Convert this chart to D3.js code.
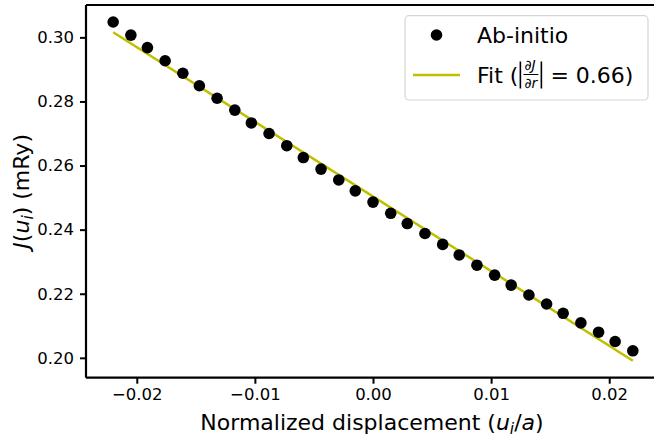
<!DOCTYPE html>
<html>
<head>
<meta charset="utf-8">
<script src="https://cdn.jsdelivr.net/npm/d3@7"></script>
<style>
  body { margin: 0; background: #fff; }
  svg { display: block; font-family: "DejaVu Sans", sans-serif; }
</style>
</head>
<body>
<div id="chart"></div>
<script>
// displacement values (u_i / a) and ab-initio J values (mRy)
var xVals = [-0.0220, -0.0205, -0.0191, -0.0176, -0.0161, -0.0147, -0.0132, -0.0117,
	-0.0103, -0.0088, -0.0073, -0.0059, -0.0044, -0.0029, -0.0015, 0.0000, 0.0015,
	0.0029, 0.0044, 0.0059, 0.0073, 0.0088, 0.0103, 0.0117, 0.0132, 0.0147, 0.0161,
	0.0176, 0.0191, 0.0205, 0.0220];
var jVals = [0.3048, 0.3007, 0.2968, 0.2927, 0.2888, 0.2849, 0.2810, 0.2773,
	0.2733, 0.2700, 0.2662, 0.2625, 0.2589, 0.2555, 0.2521, 0.2486, 0.2451,
	0.2419, 0.2388, 0.2354, 0.2321, 0.2289, 0.2258, 0.2227, 0.2196, 0.2168, 0.2139,
	0.2109, 0.2080, 0.2051, 0.2022];

// linear fit end points
var fitX = [-0.0220, 0.0220];
var fitY = [0.3016, 0.1991];

var xTicks = [-0.02, -0.01, 0.00, 0.01, 0.02];
var yTicks = [0.20, 0.22, 0.24, 0.26, 0.28, 0.30];

var W = 654, H = 439;
var m = { left: 86, top: 5, bottom: 377.7, right: 660 };

var svg = d3.select("#chart").append("svg")
	.attr("width", W)
	.attr("height", H);

var x = d3.scaleLinear().domain([-0.0243, 0.0243]).range([m.left, m.right]);
var y = d3.scaleLinear().domain([0.1938, 0.3101]).range([m.bottom, m.top]);

var fmt = function(d) { return d3.format(".2f")(d).replace("-", "\u2212"); };

// axes
var xAxis = svg.append("g")
	.attr("transform", "translate(0," + m.bottom + ")")
	.call(d3.axisBottom(x).tickValues(xTicks).tickFormat(fmt).tickSize(6).tickPadding(5));
var yAxis = svg.append("g")
	.attr("transform", "translate(" + m.left + ",0)")
	.call(d3.axisLeft(y).tickValues(yTicks).tickFormat(fmt).tickSize(6).tickPadding(6));

[xAxis, yAxis].forEach(function(a) {
	a.select(".domain").remove();
	a.selectAll(".tick line").attr("stroke", "#000").attr("stroke-width", 2);
	a.selectAll(".tick text").attr("fill", "#000")
		.style("font-family", "DejaVu Sans").style("font-size", "16.5px");
});

// spines
var sp = svg.append("g").attr("stroke", "#000").attr("stroke-width", 2.2).attr("fill", "none");
sp.append("line").attr("x1", m.left).attr("x2", m.left).attr("y1", m.top).attr("y2", m.bottom);
sp.append("line").attr("x1", m.left).attr("x2", m.right).attr("y1", m.bottom).attr("y2", m.bottom);
sp.append("line").attr("x1", m.left).attr("x2", m.right).attr("y1", m.top).attr("y2", m.top);
sp.append("line").attr("x1", m.right).attr("x2", m.right).attr("y1", m.top).attr("y2", m.bottom);

// fit line
svg.append("path")
	.datum(d3.zip(fitX, fitY))
	.attr("fill", "none")
	.attr("stroke", "#bfbf00")
	.attr("stroke-width", 2.5)
	.attr("d", d3.line().x(function(d){ return x(d[0]); }).y(function(d){ return y(d[1]); }));

// points
svg.append("g").selectAll("circle")
	.data(d3.zip(xVals, jVals))
	.enter().append("circle")
	.attr("cx", function(d){ return x(d[0]); })
	.attr("cy", function(d){ return y(d[1]); })
	.attr("r", 5.8)
	.attr("fill", "#000");

// axis labels
var xl = svg.append("text")
	.attr("x", (m.left + m.right) / 2 - 1).attr("y", 430)
	.attr("text-anchor", "middle")
	.style("font-size", "22px");
xl.append("tspan").text("Normalized displacement (");
xl.append("tspan").attr("font-style", "italic").text("u");
xl.append("tspan").attr("font-style", "italic").attr("font-size", "15.5px").attr("dy", 4).text("i");
xl.append("tspan").attr("dy", -4).text("/");
xl.append("tspan").attr("font-style", "italic").text("a");
xl.append("tspan").text(")");

var yl = svg.append("text")
	.attr("transform", "translate(29," + (m.top + m.bottom) / 2 + ") rotate(-90)")
	.attr("text-anchor", "middle")
	.style("font-size", "22px");
yl.append("tspan").attr("font-style", "italic").text("J");
yl.append("tspan").text("(");
yl.append("tspan").attr("font-style", "italic").text("u");
yl.append("tspan").attr("font-style", "italic").attr("font-size", "15.5px").attr("dy", 4).text("i");
yl.append("tspan").attr("dy", -4).text(") (mRy)");

// legend
var lg = svg.append("g");
lg.append("rect")
	.attr("x", 405).attr("y", 15.7).attr("width", 243).attr("height", 84.3)
	.attr("rx", 4).attr("fill", "#fff").attr("fill-opacity", 0.8)
	.attr("stroke", "#d6d6d6").attr("stroke-width", 1.2);
lg.append("circle").attr("cx", 436.5).attr("cy", 35).attr("r", 5.8).attr("fill", "#000");
lg.append("line").attr("x1", 413).attr("x2", 460).attr("y1", 75).attr("y2", 75)
	.attr("stroke", "#bfbf00").attr("stroke-width", 2.5);
lg.append("text").attr("x", 477).attr("y", 42.5).style("font-size", "22px").text("Ab-initio");

// "Fit (|dJ/dr| = 0.66)" built piece by piece
var fx = 477, fy = 82.5;
var t1 = lg.append("text").attr("x", fx).attr("y", fy).style("font-size", "22px").text("Fit (");
fx += t1.node().getComputedTextLength() + 2;
lg.append("line").attr("x1", fx).attr("x2", fx).attr("y1", fy - 21).attr("y2", fy + 6)
	.attr("stroke", "#000").attr("stroke-width", 1.6);
fx += 4;
var num = lg.append("text").attr("x", fx).attr("y", fy - 12.5).style("font-size", "14px")
	.attr("font-style", "italic").text("\u2202J");
var den = lg.append("text").attr("x", fx).attr("y", fy + 5).style("font-size", "14px")
	.attr("font-style", "italic").text("\u2202r");
var fw = Math.max(num.node().getComputedTextLength(), den.node().getComputedTextLength());
lg.append("line").attr("x1", fx - 1).attr("x2", fx + fw + 1).attr("y1", fy - 8).attr("y2", fy - 8)
	.attr("stroke", "#000").attr("stroke-width", 1);
fx += fw + 4;
lg.append("line").attr("x1", fx).attr("x2", fx).attr("y1", fy - 21).attr("y2", fy + 6)
	.attr("stroke", "#000").attr("stroke-width", 1.6);
fx += 9;
lg.append("text").attr("x", fx).attr("y", fy).style("font-size", "22px").text("= 0.66)");
</script>
</body>
</html>
